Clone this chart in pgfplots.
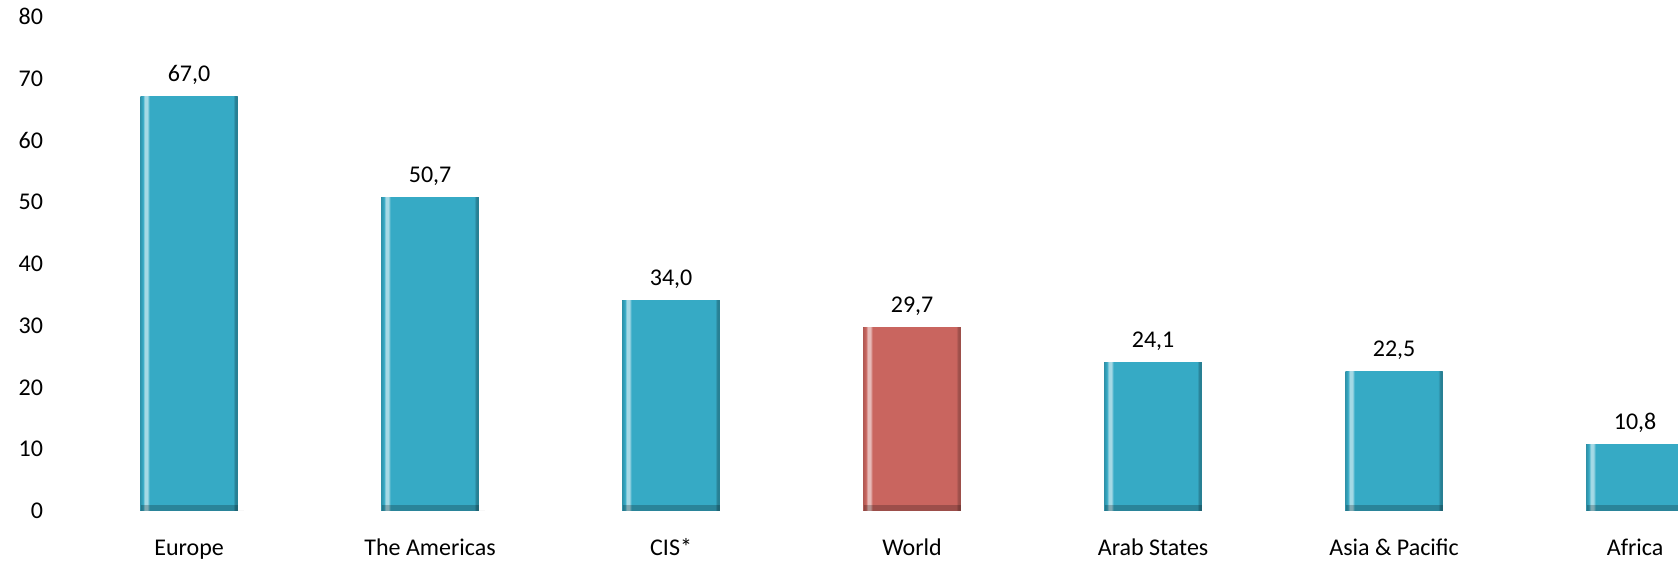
\documentclass[border=0pt]{standalone}
\usepackage{pgfplots}
\pgfplotsset{compat=1.18}
\usepackage{fontspec}
\setmainfont{Carlito}

\definecolor{barteal}{RGB}{54,170,197}
\definecolor{barred}{RGB}{201,101,95}

% across-the-bar shadings: soft left edge, bright stripe, body, darker right edge
% (the bar's width maps to 25bp..75bp)
\pgfdeclarehorizontalshading{tealbevel}{100bp}{%
  color(0bp)=(barteal!88!black); color(25bp)=(barteal!88!black);
  color(26.2bp)=(barteal); color(27.1bp)=(barteal!45!white);
  color(28.5bp)=(barteal!45!white); color(29.6bp)=(barteal);
  color(72.7bp)=(barteal); color(73.8bp)=(barteal!75!black);
  color(75bp)=(barteal!75!black); color(100bp)=(barteal!75!black)}
\pgfdeclarehorizontalshading{redbevel}{100bp}{%
  color(0bp)=(barred!90!black); color(25bp)=(barred!90!black);
  color(26.2bp)=(barred); color(27.1bp)=(barred!45!white);
  color(28.5bp)=(barred!45!white); color(29.6bp)=(barred);
  color(72.7bp)=(barred); color(73.8bp)=(barred!78!black);
  color(75bp)=(barred!78!black); color(100bp)=(barred!78!black)}

\tikzset{
  % darker band along the foot of a bar (half of the stroke falls below the axis and is clipped)
  footband/.style={postaction={draw=black, draw opacity=0.22, line width=6pt,
      dash pattern=on 48.5pt off 2000pt}},
  tealbar/.style={shading=tealbevel, draw=barteal!80!black, line width=0.4pt, footband},
  redbar/.style={shading=redbevel, draw=barred!80!black, line width=0.4pt, footband},
}

\begin{document}
\begin{tikzpicture}
\begin{axis}[
  name=main,
  scale only axis,
  width=814pt, height=247.2pt,
  xmin=-0.577, xmax=6.178,
  ymin=0, ymax=80,
  ytick={0,10,...,80},
  xtick={0,...,6},
  xticklabels={Europe, The Americas, CIS*, World, Arab States, Asia \& Pacific, Africa},
  axis line style={draw=none},
  tick style={draw=none},
  font=\fontsize{12}{14}\selectfont,
  ticklabel style={font=\fontsize{12}{14}\selectfont},
  /pgf/number format/assume math mode=true,
  xticklabel style={anchor=base, yshift=-18pt},
  ybar, bar width=48.5pt, bar shift=0pt,
  nodes near coords,
  nodes near coords style={anchor=base, yshift=7.5pt,
    font=\fontsize{12}{14}\selectfont,
    /pgf/number format/.cd, fixed, fixed zerofill, precision=1, use comma,
    assume math mode=true},
]
\addplot[tealbar] coordinates {(0,67.0)};
\addplot[tealbar] coordinates {(1,50.7)};
\addplot[tealbar] coordinates {(2,34.0)};
\addplot[redbar]  coordinates {(3,29.7)};
\addplot[tealbar] coordinates {(4,24.1)};
\addplot[tealbar] coordinates {(5,22.5)};
\addplot[tealbar] coordinates {(6,10.8)};
\end{axis}
\pgfresetboundingbox
\path[use as bounding box] ([shift={(-25pt,-27.5pt)}]main.south west)
  rectangle ([yshift=8.3pt]main.north east);
\end{tikzpicture}
\end{document}
